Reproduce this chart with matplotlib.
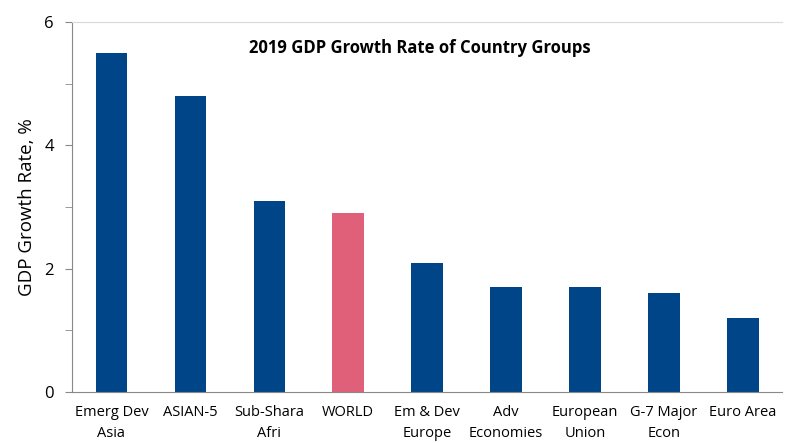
import matplotlib
matplotlib.use("Agg")
import matplotlib.pyplot as plt
from matplotlib.ticker import MultipleLocator

categories = ["Emerg Dev\nAsia", "ASIAN-5", "Sub-Shara\nAfri", "WORLD", "Em & Dev\nEurope",
              "Adv\nEconomies", "European\nUnion", "G-7 Major\nEcon", "Euro Area"]
values = [5.5, 4.8, 3.1, 2.9, 2.1, 1.7, 1.7, 1.6, 1.2]
highlight = "WORLD"
title = "2019 GDP Growth Rate of Country Groups"
ylabel = "GDP Growth Rate, %"

blue = "#004587"
pink = "#E0607A"

plt.rcParams['font.family'] = ['Open Sans', 'DejaVu Sans']
fig = plt.figure(figsize=(7.85, 4.43), dpi=100)
ax = fig.add_axes([0.0917, 0.1151, 0.905, 0.835])
colors = [pink if c == highlight else blue for c in categories]
x = list(range(len(categories)))
ax.bar(x, values, width=0.4, color=colors)
ax.set_xlim(-0.5, len(categories) - 0.5)
ax.set_ylim(0, 6)
ax.yaxis.set_major_locator(MultipleLocator(2))
ax.yaxis.set_minor_locator(MultipleLocator(1))
ax.set_xticks(x)
ax.set_xticklabels(categories, fontsize=10.5, linespacing=1.55)
ax.tick_params(axis='x', length=0, pad=9)
ax.tick_params(axis='y', which='major', labelsize=12, length=5, color='#888888', pad=8)
ax.tick_params(axis='y', which='minor', length=5, color='#888888')
for s in ['left', 'bottom']:
    ax.spines[s].set_color('#888888')
ax.spines['right'].set_visible(False)
ax.spines['top'].set_color('#D9D9D9')
ax.set_ylabel(ylabel, fontsize=13.5, labelpad=6)
ax.text(0.49, 0.93, title, transform=ax.transAxes, ha='center', va='center',
        fontsize=12, fontweight='bold')
fig.savefig("out.png", dpi=100)
